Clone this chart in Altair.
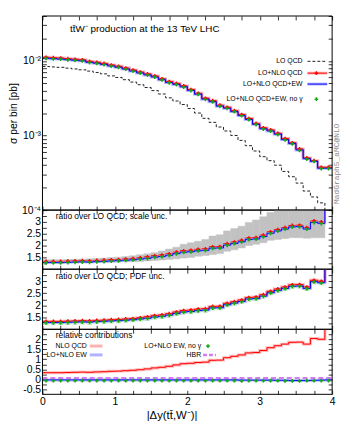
import altair as alt
import pandas as pd

# ---------------- data ----------------
bin_lo = [0.0, 0.1, 0.2, 0.3, 0.4, 0.5, 0.6, 0.7, 0.8, 0.9,
          1.0, 1.1, 1.2, 1.3, 1.4, 1.5, 1.6, 1.7, 1.8, 1.9,
          2.0, 2.1, 2.2, 2.3, 2.4, 2.5, 2.6, 2.7, 2.8, 2.9,
          3.0, 3.1, 3.2, 3.3, 3.4, 3.5, 3.6, 3.7, 3.8, 3.9]
bin_width = 0.1

# main panel: sigma per bin [pb]
lo_qcd = [0.0084, 0.0083, 0.0082, 0.0080, 0.0078, 0.0076, 0.0073, 0.0070, 0.0067, 0.0063,
          0.0060, 0.0056, 0.0052, 0.0048, 0.0044, 0.0040, 0.0036, 0.0032, 0.0029, 0.0026,
          0.0023, 0.0020, 0.0017, 0.0015, 0.0013, 0.00115, 0.00100, 0.00086, 0.00073, 0.00062,
          0.00052, 0.00046, 0.00040, 0.00033, 0.00028, 0.00023, 0.00018, 0.00015, 0.000125, 0.00001]
nlo_qcd = [0.01117, 0.01104, 0.01091, 0.01072, 0.01053, 0.01034, 0.00986, 0.00959, 0.00925, 0.00882,
           0.00846, 0.00801, 0.00754, 0.00710, 0.00669, 0.00628, 0.00576, 0.00528, 0.00499, 0.00463,
           0.00414, 0.00368, 0.00316, 0.00293, 0.00255, 0.00239, 0.00215, 0.00191, 0.00169, 0.00145,
           0.00127, 0.00119, 0.00107, 0.00091, 0.00080, 0.00066, 0.00050, 0.00046, 0.000375, 0.000375]
nlo_qcd_ew = [0.01083, 0.01071, 0.01058, 0.01040, 0.01021, 0.01003, 0.00956, 0.00930, 0.00897, 0.00856,
              0.00821, 0.00777, 0.00731, 0.00689, 0.00649, 0.00609, 0.00559, 0.00512, 0.00484, 0.00449,
              0.00402, 0.00357, 0.00307, 0.00284, 0.00247, 0.00232, 0.00209, 0.00185, 0.00164, 0.00141,
              0.00123, 0.00115, 0.00104, 0.00088, 0.00078, 0.00064, 0.00049, 0.00045, 0.000364, 0.000364]
nlo_noga = [0.01078, 0.01066, 0.01053, 0.01035, 0.01016, 0.00998, 0.00951, 0.00925, 0.00892, 0.00852,
            0.00817, 0.00773, 0.00727, 0.00685, 0.00646, 0.00606, 0.00556, 0.00509, 0.00481, 0.00446,
            0.00400, 0.00355, 0.00305, 0.00282, 0.00246, 0.00231, 0.00208, 0.00184, 0.00163, 0.00140,
            0.00122, 0.00114, 0.00103, 0.00087, 0.00077, 0.00063, 0.00048, 0.00045, 0.000360, 0.000360]

# ratio over LO QCD
ratio_qcd = [1.33, 1.33, 1.33, 1.34, 1.35, 1.36, 1.35, 1.37, 1.38, 1.40,
             1.41, 1.43, 1.45, 1.48, 1.52, 1.57, 1.60, 1.65, 1.72, 1.78,
             1.80, 1.84, 1.86, 1.95, 1.96, 2.08, 2.15, 2.22, 2.32, 2.34,
             2.44, 2.58, 2.68, 2.76, 2.85, 2.86, 2.76, 3.04, 3.00, 9.0]
ratio_qcd_ew = [1.28, 1.28, 1.28, 1.29, 1.30, 1.31, 1.30, 1.32, 1.33, 1.35,
                1.36, 1.38, 1.40, 1.43, 1.46, 1.51, 1.54, 1.59, 1.66, 1.72,
                1.74, 1.78, 1.80, 1.89, 1.90, 2.02, 2.09, 2.16, 2.26, 2.28,
                2.38, 2.52, 2.62, 2.70, 2.79, 2.80, 2.70, 2.98, 2.94, 9.0]
ratio_noga = [1.27, 1.27, 1.27, 1.28, 1.29, 1.30, 1.29, 1.31, 1.32, 1.34,
              1.35, 1.37, 1.39, 1.42, 1.45, 1.50, 1.53, 1.58, 1.65, 1.71,
              1.73, 1.77, 1.79, 1.88, 1.89, 2.01, 2.08, 2.15, 2.25, 2.27,
              2.37, 2.51, 2.61, 2.69, 2.78, 2.79, 2.69, 2.97, 2.93, 9.0]
scale_lo = [1.25, 1.25, 1.25, 1.26, 1.26, 1.27, 1.27, 1.28, 1.28, 1.29,
            1.30, 1.31, 1.32, 1.33, 1.35, 1.37, 1.39, 1.41, 1.44, 1.47,
            1.50, 1.55, 1.58, 1.62, 1.66, 1.76, 1.82, 1.90, 2.00, 2.05,
            2.12, 2.22, 2.26, 2.30, 2.33, 2.33, 2.31, 2.33, 2.33, None]
scale_hi = [1.40, 1.40, 1.40, 1.41, 1.42, 1.43, 1.44, 1.45, 1.47, 1.49,
            1.51, 1.54, 1.57, 1.61, 1.65, 1.70, 1.77, 1.85, 1.93, 2.05,
            2.12, 2.18, 2.26, 2.40, 2.46, 2.62, 2.72, 2.82, 2.98, 3.08,
            3.22, 3.40, 3.60, 3.70, 3.80, 3.85, 3.80, 3.90, 3.95, None]

# relative contributions
rel_nlo_qcd = [0.33, 0.33, 0.33, 0.34, 0.35, 0.36, 0.35, 0.37, 0.38, 0.40,
               0.41, 0.43, 0.45, 0.48, 0.52, 0.57, 0.60, 0.65, 0.72, 0.78,
               0.80, 0.84, 0.86, 0.95, 0.96, 1.08, 1.15, 1.22, 1.32, 1.34,
               1.44, 1.58, 1.68, 1.76, 1.85, 1.86, 1.76, 2.04, 2.00, 8.0]
rel_nlo_ew = [-0.03, -0.03, -0.03, -0.03, -0.03, -0.03, -0.03, -0.03, -0.03, -0.03,
              -0.03, -0.03, -0.03, -0.03, -0.03, -0.03, -0.03, -0.03, -0.03, -0.03,
              -0.03, -0.03, -0.03, -0.03, -0.03, -0.03, -0.03, -0.04, -0.04, -0.04,
              -0.04, -0.04, -0.05, -0.05, -0.06, -0.06, -0.06, -0.05, -0.04, -0.03]
rel_noga = [-0.07, -0.07, -0.07, -0.07, -0.07, -0.07, -0.07, -0.07, -0.07, -0.07,
            -0.07, -0.07, -0.07, -0.07, -0.07, -0.07, -0.07, -0.07, -0.07, -0.07,
            -0.07, -0.07, -0.07, -0.07, -0.07, -0.07, -0.07, -0.08, -0.07, -0.07,
            -0.07, -0.07, -0.07, -0.08, -0.08, -0.08, -0.07, -0.07, -0.07, -0.07]
rel_hbr = [0.07, 0.07, 0.07, 0.07, 0.07, 0.07, 0.07, 0.07, 0.07, 0.07,
           0.07, 0.07, 0.07, 0.07, 0.07, 0.07, 0.07, 0.07, 0.07, 0.07,
           0.07, 0.07, 0.07, 0.07, 0.07, 0.07, 0.07, 0.07, 0.07, 0.07,
           0.07, 0.07, 0.07, 0.07, 0.07, 0.07, 0.07, 0.07, 0.07, 0.07]

x_ticks = [0.0, 0.25, 0.5, 0.75, 1.0, 1.25, 1.5, 1.75, 2.0, 2.25, 2.5, 2.75,
           3.0, 3.25, 3.5, 3.75, 4.0]
log_ticks = [0.0001, 0.0002, 0.0003, 0.0004, 0.0005, 0.0006, 0.0007, 0.0008, 0.0009,
             0.001, 0.002, 0.003, 0.004, 0.005, 0.006, 0.007, 0.008, 0.009,
             0.01, 0.02, 0.03, 0.04]
ratio_ticks = [1.25, 1.5, 1.75, 2.0, 2.25, 2.5, 2.75, 3.0, 3.25]
rel_ticks = [-0.5, -0.25, 0.0, 0.25, 0.5, 0.75, 1.0, 1.25, 1.5, 1.75, 2.0, 2.25]

# ---------------- styling ----------------
FONT = "Liberation Sans"
W = 294
H_MAIN, H_R1, H_R2, H_REL = 197, 60, 61, 66
RED, PINK = "#ff0000", "#ffa8a8"
BLUE, LBLUE = "#0000ff", "#a8a8ff"
GREEN, LGREEN = "#14a814", "#bfe6bf"
GRAY = "#c2c2c2"
HBRC = "#d47cf0"

bin_hi = [round(b + bin_width, 2) for b in bin_lo]
bin_mid = [round(b + bin_width / 2, 3) for b in bin_lo]

df = pd.DataFrame({
    "x0": bin_lo, "x1": bin_hi, "xc": bin_mid,
    "lo": lo_qcd, "nlo": nlo_qcd, "nloew": nlo_qcd_ew, "noga": nlo_noga,
    "r_qcd": ratio_qcd, "r_ew": ratio_qcd_ew, "r_noga": ratio_noga,
    "s_lo": scale_lo, "s_hi": scale_hi,
    "rel_qcd": rel_nlo_qcd, "rel_ew": rel_nlo_ew, "rel_noga": rel_noga, "rel_hbr": rel_hbr,
})
steps = pd.concat([df.assign(xs=df["x0"]),
                   df.iloc[[-1]].assign(xs=df["x1"].iloc[-1])], ignore_index=True)

XS = alt.Scale(domain=[0, 4], nice=False, zero=False)
Y_MAIN = alt.Scale(type="log", domain=[0.0001, 0.04], nice=False)
Y_RAT = alt.Scale(domain=[1.0, 3.5], nice=False, zero=False)
Y_REL = alt.Scale(domain=[-0.75, 2.5], nice=False, zero=False)


def step_line(field, ysc, color, width=1.0, dash=None, opacity=1.0):
    kw = dict(interpolate="step-after", clip=True, color=color,
              strokeWidth=width, opacity=opacity)
    if dash:
        kw["strokeDash"] = dash
    return alt.Chart(steps).mark_line(**kw).encode(
        x=alt.X("xs:Q", scale=XS, axis=None),
        y=alt.Y(f"{field}:Q", scale=ysc, axis=None))


def pts(field, ysc, color, size=14, shape="cross"):
    return alt.Chart(df).mark_point(shape=shape, filled=True, size=size, color=color,
                                    opacity=1, clip=True).encode(
        x=alt.X("xc:Q", scale=XS, axis=None),
        y=alt.Y(f"{field}:Q", scale=ysc, axis=None))


def txt(s, x, y, size=8.5, align="left", color="black", angle=0, font=FONT):
    return alt.Chart(pd.DataFrame({"t": [s]})).mark_text(
        font=font, fontSize=size, align=align, baseline="middle",
        color=color, angle=angle).encode(text="t:N", x=alt.value(x), y=alt.value(y))


def swatch(xa, xb, y, color, width=1.0, dash=None, opacity=1.0):
    kw = dict(color=color, strokeWidth=width, opacity=opacity)
    if dash:
        kw["strokeDash"] = dash
    return alt.Chart(pd.DataFrame({"s": [0]})).mark_rule(**kw).encode(
        x=alt.value(xa), x2=alt.value(xb), y=alt.value(y))


def dot(x, y, color, size=14):
    return alt.Chart(pd.DataFrame({"s": [0]})).mark_point(
        shape="cross", filled=True, size=size, color=color, opacity=1).encode(
        x=alt.value(x), y=alt.value(y))


def frame(h):
    return alt.Chart(pd.DataFrame({"f": [0]})).mark_rect(
        fillOpacity=0, stroke="black", strokeWidth=1).encode(
        x=alt.value(0), x2=alt.value(W), y=alt.value(0), y2=alt.value(h))


AX = dict(domain=False, grid=False, tickSize=4, offset=-4, tickColor="black",
          tickWidth=0.8, labelFont=FONT, labelFontSize=10.5, labelColor="black",
          titleFont=FONT, titleFontWeight="normal", titleColor="black",
          labelOverlap=False, labelFlush=False)


def axis_layers(ysc, yvals, yexpr, anchor, ytitle=None, xlabels=False, xtitle=None):
    base = alt.Chart(pd.DataFrame({"ax": [0.0], "ay": [anchor]}))
    xa = alt.Axis(orient="bottom", values=x_ticks, labels=xlabels,
                  labelExpr="datum.value % 1 == 0 ? format(datum.value, 'd') : ''",
                  labelPadding=2, title=xtitle, titleFontSize=11.5, titlePadding=3,
                  titleX=131, **AX)
    ya = alt.Axis(orient="left", values=yvals, labelExpr=yexpr, labelPadding=2,
                  title=ytitle, titleFontSize=10.5, titlePadding=2, **AX)
    first = base.mark_point(opacity=0).encode(
        x=alt.X("ax:Q", scale=XS, axis=xa),
        y=alt.Y("ay:Q", scale=ysc, axis=ya))
    xt = alt.Axis(orient="top", values=x_ticks, labels=False, title=None, **AX)
    yr = alt.Axis(orient="right", values=yvals, labels=False, title=None, **AX)
    second = base.mark_point(opacity=0).encode(
        x=alt.X("ax:Q", scale=XS, axis=xt),
        y=alt.Y("ay:Q", scale=ysc, axis=yr))
    return [first, second]


LOG_EXPR = ("datum.value == 0.01 ? '10\u207b\u00b2' : datum.value == 0.001 ? '10\u207b\u00b3' : "
            "datum.value == 0.0001 ? '10\u207b\u2074' : ''")
RAT_EXPR = "(datum.value % 0.5 == 0 && datum.value >= 1.5 && datum.value <= 3) ? '' + datum.value : ''"
REL_EXPR = "(datum.value % 0.5 == 0 && datum.value >= -0.5 && datum.value <= 2) ? '' + datum.value : ''"

# ---------------- main panel ----------------
ly = [46.0, 58.0, 69.1, 84.4]
main = alt.layer(
    *axis_layers(Y_MAIN, log_ticks, LOG_EXPR, 0.0001, ytitle="\u03c3 per bin [pb]"),
    step_line("lo", Y_MAIN, "#222222", 1.0, dash=[3, 2]),
    step_line("nlo", Y_MAIN, PINK, 3.0, opacity=0.8),
    step_line("nloew", Y_MAIN, LBLUE, 3.0, opacity=0.8),
    step_line("nlo", Y_MAIN, RED, 1.0),
    step_line("nloew", Y_MAIN, BLUE, 1.0),
    pts("nlo", Y_MAIN, RED),
    pts("noga", Y_MAIN, GREEN),
    txt("tt\u0304W\u207b production at the 13 TeV LHC", 28, 13.4, size=10),
    txt("LO QCD", 264, ly[0], size=7, align="right"),
    txt("LO+NLO QCD", 264, ly[1], size=7, align="right"),
    txt("LO+NLO QCD+EW", 264, ly[2], size=7, align="right"),
    txt("LO+NLO QCD+EW, no \u03b3", 264, ly[3], size=7, align="right"),
    swatch(269, 289, ly[0], "#222222", 1.0, dash=[3, 2]),
    swatch(269, 289, ly[1], PINK, 3.0, opacity=0.8),
    swatch(269, 289, ly[1], RED, 1.0),
    dot(278, ly[1], RED),
    swatch(269, 289, ly[2], LBLUE, 3.0, opacity=0.8),
    swatch(269, 289, ly[2], BLUE, 1.0),
    dot(278, ly[3], GREEN),
    txt("MadGraph5_aMC@NLO", 299, 150, size=8, color="#8a8a8a", angle=270,
        align="center", font="Liberation Mono"),
    frame(H_MAIN),
).properties(width=W, height=H_MAIN).resolve_axis(x="independent", y="independent")

# ---------------- ratio, scale uncertainty ----------------
band = alt.Chart(df).mark_rect(color=GRAY, stroke=GRAY, strokeWidth=0.5, clip=True).encode(
    x=alt.X("x0:Q", scale=XS, axis=None), x2="x1:Q",
    y=alt.Y("s_lo:Q", scale=Y_RAT, axis=None), y2="s_hi:Q")

r1 = alt.layer(
    *axis_layers(Y_RAT, ratio_ticks, RAT_EXPR, 1.0),
    band,
    step_line("r_qcd", Y_RAT, RED, 1.0),
    step_line("r_ew", Y_RAT, LBLUE, 2.5, opacity=0.7),
    step_line("r_ew", Y_RAT, BLUE, 1.0),
    pts("r_qcd", Y_RAT, RED),
    pts("r_noga", Y_RAT, GREEN),
    txt("ratio over LO QCD; scale unc.", 13.5, 6, size=8.5),
    frame(H_R1),
).properties(width=W, height=H_R1).resolve_axis(x="independent", y="independent")

# ---------------- ratio, PDF uncertainty ----------------
r2 = alt.layer(
    *axis_layers(Y_RAT, ratio_ticks, RAT_EXPR, 1.0),
    step_line("r_qcd", Y_RAT, PINK, 3.0, opacity=0.8),
    step_line("r_ew", Y_RAT, LBLUE, 3.0, opacity=0.8),
    pts("r_noga", Y_RAT, LGREEN, size=24, shape="square"),
    step_line("r_qcd", Y_RAT, RED, 1.0),
    step_line("r_ew", Y_RAT, BLUE, 1.0),
    pts("r_qcd", Y_RAT, RED),
    pts("r_noga", Y_RAT, GREEN),
    txt("ratio over LO QCD; PDF unc.", 13.5, 7, size=8.5),
    frame(H_R2),
).properties(width=W, height=H_R2).resolve_axis(x="independent", y="independent")

# ---------------- relative contributions ----------------
rel = alt.layer(
    *axis_layers(Y_REL, rel_ticks, REL_EXPR, -0.75, xlabels=True,
                 xtitle="|\u0394y(tt\u0304,W\u207b)|"),
    step_line("rel_qcd", Y_REL, PINK, 3.0, opacity=0.8),
    step_line("rel_ew", Y_REL, LBLUE, 3.0, opacity=0.8),
    step_line("rel_qcd", Y_REL, RED, 1.0),
    step_line("rel_hbr", Y_REL, HBRC, 2.0, dash=[5, 3]),
    step_line("rel_ew", Y_REL, BLUE, 1.0),
    pts("rel_noga", Y_REL, GREEN),
    txt("relative contributions", 13.5, 5.5, size=8.5),
    txt("NLO QCD", 45, 17, size=7, align="right"),
    swatch(48, 61, 17, PINK, 3.0, opacity=0.9),
    txt("LO+NLO EW", 45, 26, size=7, align="right"),
    swatch(48, 61, 26, LBLUE, 3.0, opacity=0.9),
    txt("LO+NLO EW, no \u03b3", 161, 17, size=7, align="right"),
    dot(168, 17, GREEN),
    txt("HBR", 161, 26, size=7, align="right"),
    swatch(163, 176, 26, HBRC, 2.5, dash=[4, 2]),
    frame(H_REL),
).properties(width=W, height=H_REL).resolve_axis(x="independent", y="independent")

chart = alt.vconcat(main, r1, r2, rel, spacing=0).properties(
    bounds="flush", padding=0
).configure(font=FONT).configure_view(strokeWidth=0)

chart.save("out.html", embed_options={"renderer": "svg", "actions": False})
